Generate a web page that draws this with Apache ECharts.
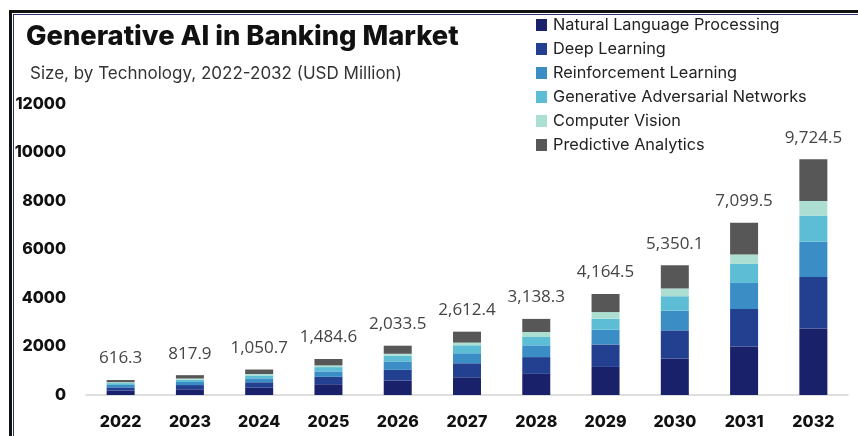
<!DOCTYPE html>
<html>
<head>
<meta charset="utf-8">
<script src="https://cdn.jsdelivr.net/npm/echarts@6/dist/echarts.min.js"></script>
<style>
  html, body { margin: 0; padding: 0; background: #fff; overflow: hidden; }
  #chart { position: absolute; left: 0; top: 0; width: 858px; height: 436px; }
  .ln { position: absolute; z-index: 5; pointer-events: none; }
</style>
</head>
<body>
<div id="chart"></div>
<div class="ln" style="left:9px; top:10px; width:849px; height:3px; background:#111;"></div>
<div class="ln" style="left:9px; top:10px; width:3px; height:426px; background:#111;"></div>
<div class="ln" style="left:13px; top:14px; width:845px; height:1px; background:#2a3570;"></div>
<div class="ln" style="left:13px; top:14px; width:1px; height:422px; background:#2a3570;"></div>
<script>
const years = ['2022','2023','2024','2025','2026','2027','2028','2029','2030','2031','2032'];
const totals = [616.3, 817.9, 1050.7, 1484.6, 2033.5, 2612.4, 3138.3, 4164.5, 5350.1, 7099.5, 9724.5];
const nlp = [180, 235, 300, 444, 594, 730, 871, 1158, 1505, 2000, 2739];
const deepLearning = [135, 175, 225, 305, 443, 578, 692, 923, 1160, 1545, 2129];
const reinforcement = [100, 125, 160, 222, 346, 413, 484, 608, 815, 1075, 1453];
const gan = [75, 95, 120, 180, 235, 330, 345, 454, 593, 785, 1079];
const computerVision = [40, 50, 60, 70, 83, 110, 207, 277, 320, 385, 598];
const predictive = [86.3, 137.9, 185.7, 263.6, 332.5, 451.4, 539.3, 744.5, 957.1, 1309.5, 1726.5];
const yTicks = [0, 2000, 4000, 6000, 8000, 10000, 12000];

const seriesDefs = [
  ['Natural Language Processing', nlp, '#18216a'],
  ['Deep Learning', deepLearning, '#233f8f'],
  ['Reinforcement Learning', reinforcement, '#3a8ec5'],
  ['Generative Adversarial Networks', gan, '#5dbdd5'],
  ['Computer Vision', computerVision, '#acdfd2'],
  ['Predictive Analytics', predictive, '#575757']
];

const fmt = v => v.toLocaleString('en-US', {minimumFractionDigits: 1, maximumFractionDigits: 1});

const series = seriesDefs.map(([name, data, color], i) => {
  const s = {
    name, type: 'bar', stack: 'total', data, barWidth: 28,
    itemStyle: { color },
    emphasis: { disabled: true }
  };
  if (i === seriesDefs.length - 1) {
    s.label = {
      show: true, position: 'top', distance: 13,
      formatter: p => fmt(totals[p.dataIndex]),
      fontFamily: 'Open Sans', fontSize: 17, color: '#444', fontWeight: 400
    };
  }
  return s;
});

const chart = echarts.init(document.getElementById('chart'));
chart.setOption({
  animation: false,
  backgroundColor: 'transparent',
  title: [
    { text: 'Generative AI in Banking Market', left: 21, top: 18,
      textStyle: { fontFamily: 'Inter', fontWeight: 800, fontSize: 27.3, color: '#111' } },
    { text: 'Size, by Technology, 2022-2032 (USD Million)', left: 25, top: 60,
      textStyle: { fontFamily: 'Inter', fontWeight: 400, fontSize: 17, color: '#333' } }
  ],
  legend: {
    orient: 'vertical', left: 531, top: 12, itemWidth: 11, itemHeight: 12, itemGap: 8,
    icon: 'rect', selectedMode: false,
    textStyle: { fontFamily: 'Inter', fontSize: 16.3, color: '#222', padding: [0, 0, 0, 1] },
    data: seriesDefs.map(d => d[0])
  },
  grid: { left: 86, right: 10, top: 104, bottom: 41, containLabel: false },
  xAxis: {
    type: 'category', data: years,
    axisLine: { lineStyle: { color: '#d4d4d4', width: 1.5 } },
    axisTick: { show: false },
    axisLabel: { fontFamily: 'Inter', fontWeight: 800, fontSize: 16, color: '#111', margin: 19 }
  },
  yAxis: {
    type: 'value', min: yTicks[0], max: yTicks[yTicks.length - 1], interval: 2000,
    splitLine: { show: false }, axisLine: { show: false }, axisTick: { show: false },
    axisLabel: { fontFamily: 'Inter', fontWeight: 800, fontSize: 16, color: '#111', margin: 20,
                 formatter: v => String(v) }
  },
  series
});
</script>
</body>
</html>
